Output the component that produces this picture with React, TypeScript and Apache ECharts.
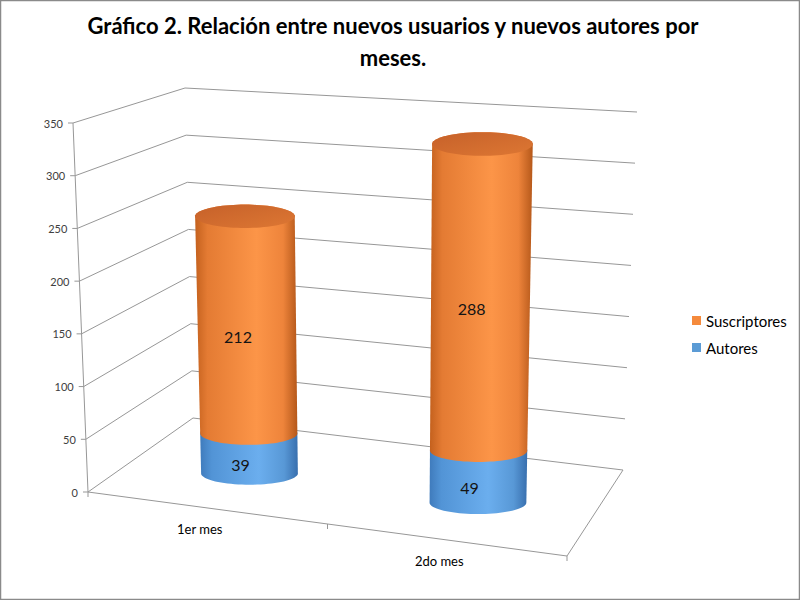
import React, { useEffect, useRef } from "react";
import * as echarts from "echarts";

// ---- data ----
const categories = ["1er mes", "2do mes"];
const autores = [39, 49];
const suscriptores = [212, 288];
const yTicks = [0, 50, 100, 150, 200, 250, 300, 350];
const yMin = 0;
const yMax = 350;
const yInterval = 50;
const chartTitle = "Gráfico 2. Relación entre nuevos usuarios y nuevos autores por\nmeses.";
const legendNames = ["Suscriptores", "Autores"];

// ---- layout (screen corners of the 3D box) ----
const FLB = [88, 492];
const FLT = [73, 123];
const BLB = [193, 418];
const BLT = [185, 88];
const BRB = [623, 470];
const BRT = [637, 112];
const FRB = [567, 556];
const FRT = [
  FRB[0] + (FLT[0] - FLB[0]) + (BRT[0] - BRB[0]) - (BLT[0] - BLB[0]),
  FRB[1] + (FLT[1] - FLB[1]) + (BRT[1] - BRB[1]) - (BLT[1] - BLB[1]),
];
const DEPTH = 0.45;
const RADIUS_U = 0.105;
const RY_RATIO = 0.235;
const FONT = "Lato, 'Open Sans', sans-serif";
const GRID_COLOR = "#979797";

function lerp2(a: number[], b: number[], t: number) {
  return [a[0] + (b[0] - a[0]) * t, a[1] + (b[1] - a[1]) * t];
}
function project(u: number, d: number, h: number) {
  const bottom = lerp2(lerp2(FLB, FRB, u), lerp2(BLB, BRB, u), d);
  const top = lerp2(lerp2(FLT, FRT, u), lerp2(BLT, BRT, u), d);
  return lerp2(bottom, top, h);
}
function uSpan(d: number, h: number) {
  const a = project(0, d, h);
  const b = project(1, d, h);
  return Math.hypot(b[0] - a[0], b[1] - a[1]);
}
function norm(params: any, api: any, cat: number, v: number) {
  const cs = params.coordSys;
  const p = api.coord([cat, v]);
  return {
    u: (p[0] - cs.x) / cs.width,
    h: (cs.y + cs.height - p[1]) / cs.height,
  };
}

const orangeBody = () =>
  new echarts.graphic.LinearGradient(0, 0, 1, 0, [
    { offset: 0, color: "#C4611E" },
    { offset: 0.12, color: "#E47B33" },
    { offset: 0.6, color: "#FC9548" },
    { offset: 0.86, color: "#EE843B" },
    { offset: 1, color: "#B5581A" },
  ]);
const blueBody = () =>
  new echarts.graphic.LinearGradient(0, 0, 1, 0, [
    { offset: 0, color: "#3F7BBC" },
    { offset: 0.12, color: "#5294D6" },
    { offset: 0.6, color: "#6BAEEE" },
    { offset: 0.86, color: "#5898D6" },
    { offset: 1, color: "#386FAE" },
  ]);
const orangeCap = () =>
  new echarts.graphic.LinearGradient(0, 0, 1, 1, [
    { offset: 0, color: "#C6612A" },
    { offset: 1, color: "#DD7733" },
  ]);

function makeCylinderRender(bodyFill: () => any, withCap: boolean) {
  return (params: any, api: any) => {
    const cat = api.value(0);
    const v0 = api.value(1);
    const v1 = api.value(2);
    const n0 = norm(params, api, cat, v0);
    const n1 = norm(params, api, cat, v1);
    const c0 = project(n0.u, DEPTH, n0.h);
    const c1 = project(n1.u, DEPTH, n1.h);
    const rx0 = RADIUS_U * uSpan(DEPTH, n0.h);
    const rx1 = RADIUS_U * uSpan(DEPTH, n1.h);
    const ry0 = rx0 * RY_RATIO;
    const ry1 = rx1 * RY_RATIO;
    const N = 40;
    const pts: number[][] = [];
    for (let k = 0; k <= N; k++) {
      const t = (Math.PI * k) / N;
      pts.push([c0[0] + rx0 * Math.cos(t), c0[1] + ry0 * Math.sin(t)]);
    }
    for (let k = 0; k <= N; k++) {
      const t = Math.PI + (Math.PI * k) / N;
      pts.push([c1[0] + rx1 * Math.cos(t), c1[1] + ry1 * Math.sin(t)]);
    }
    const children: any[] = [
      { type: "polygon", shape: { points: pts }, style: { fill: bodyFill() } },
    ];
    if (withCap) {
      const cap: number[][] = [];
      for (let k = 0; k < 2 * N; k++) {
        const t = (Math.PI * k) / N;
        cap.push([c1[0] + rx1 * Math.cos(t), c1[1] + ry1 * Math.sin(t)]);
      }
      children.push({ type: "polygon", shape: { points: cap }, style: { fill: orangeCap() } });
    }
    const mid = project(n0.u, DEPTH, (n0.h + n1.h) / 2);
    const rxm = (rx0 + rx1) / 2;
    children.push({
      type: "text",
      style: {
        text: String(v1 - v0),
        x: mid[0] - 0.18 * rxm,
        y: mid[1] + rxm * RY_RATIO,
        align: "center",
        verticalAlign: "middle",
        fontSize: 16,
        fontFamily: FONT,
        fill: "#141414",
      },
    });
    return { type: "group", children };
  };
}

export default function App() {
  const ref = useRef<HTMLDivElement>(null);
  useEffect(() => {
    if (!ref.current) return;
    const chart = echarts.init(ref.current, undefined, { renderer: "svg" });
    const band = 1 / categories.length;
    const option: any = {
      animation: false,
      backgroundColor: "#ffffff",
      grid: { left: 100, right: 100, top: 100, bottom: 100 },
      xAxis: { type: "category", data: categories, show: false },
      yAxis: { type: "value", min: yMin, max: yMax, interval: yInterval, show: false },
      legend: {
        data: legendNames,
        orient: "vertical",
        left: 692,
        top: 313,
        padding: 0,
        icon: "rect",
        itemWidth: 9,
        itemHeight: 9,
        itemGap: 12,
        selectedMode: false,
        textStyle: { fontSize: 15, fontFamily: FONT, color: "#000", lineHeight: 15 },
      },
      graphic: [
        {
          type: "rect",
          shape: { x: 0.5, y: 0.5, width: 799, height: 599 },
          style: { fill: "none", stroke: "#8a8a8a", lineWidth: 1.5 },
          silent: true,
        },
        {
          type: "text",
          x: 393,
          y: 9,
          style: {
            text: chartTitle,
            align: "center",
            verticalAlign: "top",
            fontSize: 22,
            fontWeight: "bold",
            fontFamily: FONT,
            lineHeight: 32,
            fill: "#000",
          },
          silent: true,
        },
      ],
      series: [
        {
          type: "custom",
          silent: true,
          data: yTicks.map((v) => [0, v]),
          renderItem: (params: any, api: any) => {
            const v = api.value(1);
            const { h } = norm(params, api, 0, v);
            const a = project(0, 0, h);
            const b = project(0, 1, h);
            const c = project(1, 1, h);
            return {
              type: "group",
              children: [
                {
                  type: "polyline",
                  shape: { points: [a, b, c] },
                  style: { stroke: GRID_COLOR, lineWidth: 1, fill: null },
                },
                {
                  type: "line",
                  shape: { x1: a[0] - 5, y1: a[1], x2: a[0], y2: a[1] },
                  style: { stroke: GRID_COLOR, lineWidth: 1 },
                },
                {
                  type: "text",
                  style: {
                    text: String(v),
                    x: a[0] - 10,
                    y: a[1],
                    align: "right",
                    verticalAlign: "middle",
                    fontSize: 11,
                    fontFamily: FONT,
                    fill: "#404040",
                  },
                },
              ],
            };
          },
        },
        {
          type: "custom",
          silent: true,
          data: [[0, yMin]],
          renderItem: (params: any, api: any) => {
            const n0 = norm(params, api, 0, yMin);
            const n1 = norm(params, api, 0, yMax);
            const o = project(0, 0, n0.h);
            const t = project(0, 0, n1.h);
            const fr = project(1, 0, n0.h);
            const br = project(1, 1, n0.h);
            const children: any[] = [
              { type: "line", shape: { x1: o[0], y1: o[1], x2: t[0], y2: t[1] }, style: { stroke: GRID_COLOR, lineWidth: 1 } },
              { type: "polyline", shape: { points: [o, fr, br] }, style: { stroke: GRID_COLOR, lineWidth: 1, fill: null } },
            ];
            for (let i = 0; i <= categories.length; i++) {
              const p = project(i * band, 0, n0.h);
              children.push({
                type: "line",
                shape: { x1: p[0], y1: p[1], x2: p[0], y2: p[1] + 5 },
                style: { stroke: GRID_COLOR, lineWidth: 1 },
              });
            }
            return { type: "group", children };
          },
        },
        {
          type: "custom",
          silent: true,
          data: categories.map((_, i) => [i, yMin]),
          renderItem: (params: any, api: any) => {
            const i = api.value(0);
            const { u, h } = norm(params, api, i, yMin);
            const p = project(u, 0, h);
            return {
              type: "text",
              style: {
                text: categories[i],
                x: p[0] - 8,
                y: p[1] + 21,
                align: "center",
                verticalAlign: "middle",
                fontSize: 13,
                fontFamily: FONT,
                fill: "#000",
              },
            };
          },
        },
        {
          name: "Autores",
          type: "custom",
          itemStyle: { color: "#5B9BD5" },
          encode: { x: 0, y: 2 },
          data: autores.map((v, i) => [i, 0, v]),
          renderItem: makeCylinderRender(blueBody, false),
        },
        {
          name: "Suscriptores",
          type: "custom",
          itemStyle: { color: "#F58A3C" },
          encode: { x: 0, y: 2 },
          data: suscriptores.map((v, i) => [i, autores[i], autores[i] + v]),
          renderItem: makeCylinderRender(orangeBody, true),
        },
      ],
    };
    chart.setOption(option);
    return () => chart.dispose();
  }, []);
  return (
    <div
      ref={ref}
      style={{ position: "absolute", left: 0, top: 0, width: 800, height: 600 }}
    />
  );
}
